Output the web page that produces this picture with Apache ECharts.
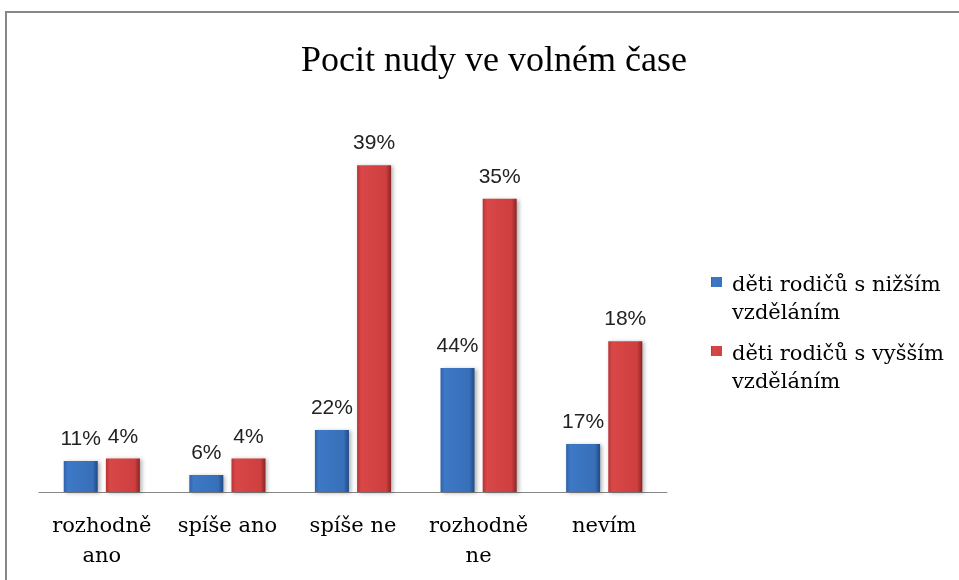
<!DOCTYPE html>
<html>
<head>
<meta charset="utf-8">
<title>Pocit nudy ve volném čase</title>
<script src="https://cdn.jsdelivr.net/npm/echarts@6/dist/echarts.min.js"></script>
<style>
    html, body { margin: 0; padding: 0; background: #fff; }
    #chart { width: 959px; height: 580px; }
</style>
</head>
<body>
<div id="chart"></div>
<script>
// data
var categories = ['rozhodně\nano', 'spíše ano', 'spíše ne', 'rozhodně\nne', 'nevím'];
var seriesNames = ['děti rodičů s nižším vzděláním', 'děti rodičů s vyšším vzděláním'];
var lowerEdu = [11, 6, 22, 44, 17];
var higherEdu = [4, 4, 39, 35, 18];

// bar colours (horizontal shading)
function shade(a, b, c, d) {
    return new echarts.graphic.LinearGradient(0, 0, 1, 0, [
        { offset: 0, color: a },
        { offset: 0.12, color: b },
        { offset: 0.85, color: c },
        { offset: 1, color: d }
    ]);
}
var blue = shade('#2f62a8', '#3d79c7', '#386fb8', '#1f4a86');
var red = shade('#b83434', '#d94747', '#cf3f3f', '#8a2424');

// legend marker sits on the first text line
var legendIcon = 'path://M0,0h0.01v0.01h-0.01z M0,5h11v10h-11z M15.99,55.99h0.01v0.01h-0.01z';

var labelStyle = {
    show: true,
    position: 'top',
    distance: 11,
    fontFamily: 'Liberation Sans',
    fontSize: 21,
    color: '#222',
    formatter: '{c}%'
};

var myChart = echarts.init(document.getElementById('chart'));
var option = {
    backgroundColor: '#fff',
    animation: false,
    title: {
        text: 'Pocit nudy ve volném čase',
        left: 489,
        top: 39,
        textAlign: 'center',
        textStyle: {
            fontFamily: 'Liberation Serif',
            fontSize: 36,
            fontWeight: 'normal',
            color: '#000'
        }
    },
    graphic: [{
        type: 'rect',
        silent: true,
        z: -1,
        shape: { x: 6, y: 12, width: 1000, height: 1000 },
        style: { fill: 'transparent', stroke: '#878787', lineWidth: 2 }
    }],
    legend: {
        orient: 'vertical',
        left: 706,
        top: 267,
        itemWidth: 16,
        itemHeight: 56,
        itemGap: 13,
        icon: legendIcon,
        formatter: function(name) {
            return name.replace(' vzděláním', '\nvzděláním');
        },
        textStyle: {
            fontFamily: 'DejaVu Serif',
            fontSize: 21,
            lineHeight: 28,
            color: '#000'
        }
    },
    grid: {
        left: 39,
        right: 292,
        top: 130,
        bottom: 88
    },
    xAxis: {
        type: 'category',
        data: categories,
        axisLine: { lineStyle: { color: '#868686', width: 1 } },
        axisTick: { show: false },
        axisLabel: {
            margin: 20,
            fontFamily: 'DejaVu Serif',
            fontSize: 21,
            lineHeight: 30,
            color: '#000',
            interval: 0
        }
    },
    yAxis: [{
        type: 'value',
        min: 0,
        max: 43.2,
        show: false
    }, {
        type: 'value',
        min: 0,
        max: 128.4,
        show: false
    }],
    series: [{
        name: seriesNames[0],
        type: 'bar',
        yAxisIndex: 1,
        data: lowerEdu,
        barWidth: 34,
        barGap: '24%',
        itemStyle: {
            color: blue,
            shadowColor: 'rgba(0,0,0,0.3)',
            shadowBlur: 4,
            shadowOffsetX: 2,
            shadowOffsetY: 1
        },
        label: labelStyle
    }, {
        name: seriesNames[1],
        type: 'bar',
        yAxisIndex: 0,
        data: higherEdu,
        barWidth: 34,
        barGap: '24%',
        itemStyle: {
            color: red,
            shadowColor: 'rgba(0,0,0,0.3)',
            shadowBlur: 4,
            shadowOffsetX: 2,
            shadowOffsetY: 1
        },
        label: labelStyle
    }]
};
myChart.setOption(option);
</script>
</body>
</html>
